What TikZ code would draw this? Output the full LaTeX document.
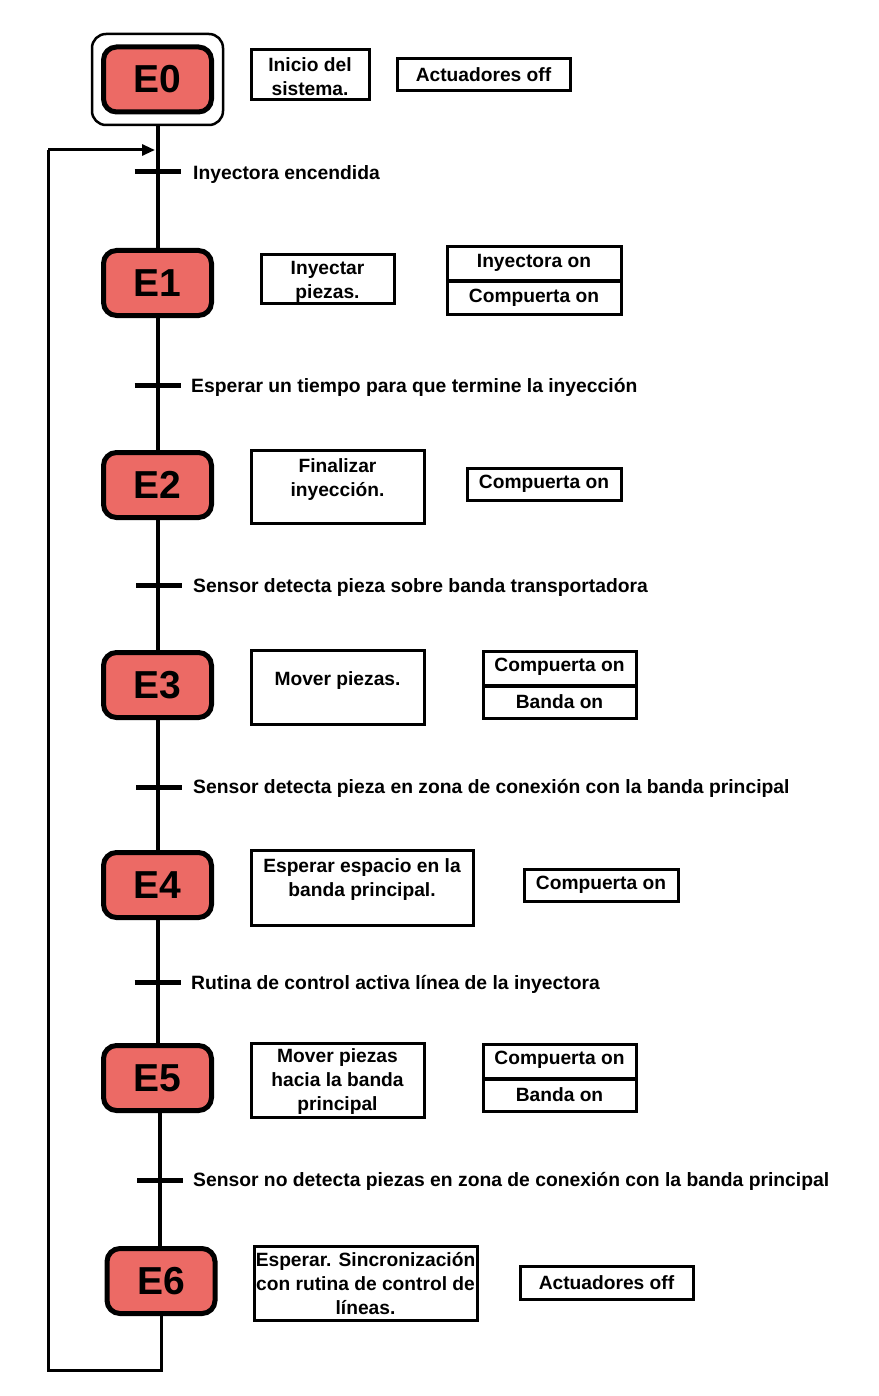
\documentclass[tikz,border=0pt]{standalone}
\usepackage{fontspec}
\setmainfont{Liberation Sans}
\usetikzlibrary{arrows.meta,calc}
\definecolor{stepred}{RGB}{236,106,101}
\begin{document}
\begin{tikzpicture}[x=1pt,y=-1pt,
  stepbox/.style={draw=black,line width=5pt,fill=stepred,rounded corners=13pt,
    minimum width=108pt,minimum height=65pt,inner sep=0pt,
    font=\fontsize{39}{40}\selectfont\bfseries},
  abox/.style={draw=black,line width=3pt,inner sep=0pt},
  atext/.style={font=\fontsize{19.2}{24}\selectfont\bfseries,align=center,inner sep=0pt,yshift=-1.5pt},
  ttext/.style={font=\fontsize{19.3}{24}\selectfont\bfseries,anchor=west,inner sep=0pt,yshift=-1.5pt},
  flow/.style={line width=4pt},
  bar/.style={line width=5pt},
  loopline/.style={line width=3pt}
]
\useasboundingbox (0,0) rectangle (878,1396);

% steps
\node[draw=black,line width=2.5pt,rounded corners=14pt,minimum width=131pt,minimum height=91pt] (E0frame) at (157.5,79.5) {};
\node[stepbox] (E0) at (157.5,79.5) {E0};
\node[stepbox] (E1) at (157.5,283) {E1};
\node[stepbox] (E2) at (157.5,485) {E2};
\node[stepbox] (E3) at (157.5,685) {E3};
\node[stepbox] (E4) at (157.5,885) {E4};
\node[stepbox] (E5) at (157.5,1078) {E5};
\node[stepbox] (E6) at (161,1281) {E6};

% transition points
\coordinate (t0) at (157.5,172);
\coordinate (t1) at (157.5,385);
\coordinate (t2) at (159,585);
\coordinate (t3) at (159,787);
\coordinate (t4) at (157.5,982);
\coordinate (t5) at (160,1180);

% flow lines
\draw[flow] (E0frame.south) -- (E1.north);
\draw[flow] (E1.south) -- (E2.north);
\draw[flow] (E2.south) -- (E3.north);
\draw[flow] (E3.south) -- (E4.north);
\draw[flow] (E4.south) -- (E5.north);
\draw[flow] (E5.south -| t5) -- (E6.north -| t5);

% transition bars
\foreach \t in {t0,t1,t2,t3,t4,t5}
  \draw[bar] ($(\t)+(-23,0)$) -- ($(\t)+(23,0)$);

% transition labels
\node[ttext] (c0) at (193,173) {Inyectora encendida};
\node[ttext] (c1) at (191,386) {Esperar un tiempo para que termine la inyección};
\node[ttext] (c2) at (193,586) {Sensor detecta pieza sobre banda transportadora};
\node[ttext] (c3) at (193,787) {Sensor detecta pieza en zona de conexión con la banda principal};
\node[ttext] (c4) at (191,983) {Rutina de control activa línea de la inyectora};
\node[ttext] (c5) at (193,1180) {Sensor no detecta piezas en zona de conexión con la banda principal};

% loop back
\coordinate (lA) at (161,1370);
\coordinate (lB) at (48,1370);
\coordinate (lC) at (48,150);
\coordinate (lD) at (155,150);
\draw[loopline] (E6.south) -- (lA) -- (lB) -- (lC);
\draw[loopline,-{Triangle[length=13pt,width=11pt]}] (lC) -- (lD);

% action boxes E0
\node[abox,minimum width=118pt,minimum height=50pt] (a0) at (310,75) {};
\node[atext] at (310,75) {Inicio del\\sistema.};
\node[abox,minimum width=173pt,minimum height=32pt] (b0) at (483.5,75) {};
\node[atext] at (483.5,73) {Actuadores off};

% E1
\node[abox,minimum width=133pt,minimum height=49pt] (a1) at (327.5,279.5) {};
\node[atext] at (327.5,280) {Inyectar\\piezas.};
\node[abox,minimum width=174pt,minimum height=34pt] (b1a) at (534,264) {};
\node[atext] at (534,261) {Inyectora on};
\node[abox,minimum width=174pt,minimum height=32pt] (b1b) at (534,298) {};
\node[atext] at (534,296) {Compuerta on};

% E2
\node[abox,minimum width=173pt,minimum height=73pt] (a2) at (337.5,486.5) {};
\node[atext] at (337.5,478) {Finalizar\\inyección.};
\node[abox,minimum width=154pt,minimum height=32pt] (b2) at (544,484) {};
\node[atext] at (544,482) {Compuerta on};

% E3
\node[abox,minimum width=173pt,minimum height=74pt] (a3) at (337.5,687) {};
\node[atext] at (337.5,679) {Mover piezas.};
\node[abox,minimum width=153pt,minimum height=34pt] (b3a) at (559.5,668) {};
\node[atext] at (559.5,665) {Compuerta on};
\node[abox,minimum width=153pt,minimum height=32pt] (b3b) at (559.5,702) {};
\node[atext] at (559.5,700) {Banda on};

% E4
\node[abox,minimum width=222pt,minimum height=75pt] (a4) at (362,887.5) {};
\node[atext] at (362,878) {Esperar espacio en la\\banda principal.};
\node[abox,minimum width=154pt,minimum height=32pt] (b4) at (601,885) {};
\node[atext] at (601,883) {Compuerta on};

% E5
\node[abox,minimum width=173pt,minimum height=74pt] (a5) at (337.5,1080) {};
\node[atext] at (337.5,1080) {Mover piezas\\hacia la banda\\principal};
\node[abox,minimum width=153pt,minimum height=34pt] (b5a) at (559.5,1061) {};
\node[atext] at (559.5,1058) {Compuerta on};
\node[abox,minimum width=153pt,minimum height=32pt] (b5b) at (559.5,1095) {};
\node[atext] at (559.5,1093) {Banda on};

% E6
\node[abox,minimum width=223pt,minimum height=74pt] (a6) at (365.5,1283) {};
\node[atext] at (365.5,1282) {Esperar. Sincronización\\con rutina de control de\\líneas.};
\node[abox,minimum width=173pt,minimum height=33pt] (b6) at (606.5,1282.5) {};
\node[atext] at (606.5,1281) {Actuadores off};
\end{tikzpicture}
\end{document}
